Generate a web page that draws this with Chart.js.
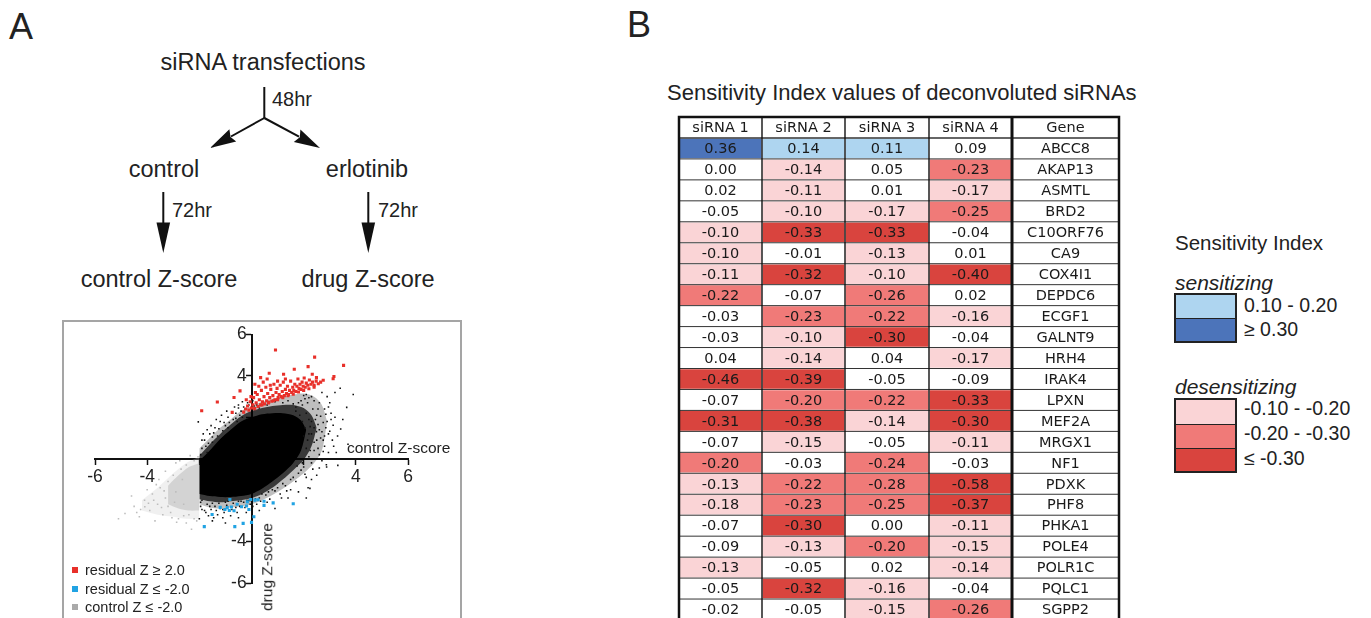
<!DOCTYPE html>
<html><head><meta charset="utf-8">
<script src="https://cdn.jsdelivr.net/npm/chart.js@4.4.1/dist/chart.umd.min.js"></script>
<style>
html,body{margin:0;padding:0;background:#fff;}
body{width:1371px;height:618px;position:relative;overflow:hidden;font-family:"Liberation Sans",Arial,sans-serif;color:#222;}
.t{position:absolute;white-space:nowrap;line-height:1;}
.c{transform:translate(-50%,-50%);}
.l{transform:translateY(-50%);}
#scatterBox{position:absolute;left:62px;top:320px;width:400px;height:320px;border:2px solid #a5a5a5;box-sizing:border-box;}
canvas{position:absolute;}
.sq{position:absolute;width:6px;height:6px;}
.box{position:absolute;border:2px solid #222;box-sizing:border-box;}
.box div{box-sizing:border-box;}
</style></head>
<body>
<!-- Panel A : flow diagram -->
<div class="t l" style="left:9px;top:27px;font-size:36px;">A</div>
<div class="t c" style="left:263px;top:63px;font-size:23.5px;">siRNA transfections</div>
<div class="t l" style="left:272px;top:99px;font-size:20px;">48hr</div>
<div class="t c" style="left:164px;top:170px;font-size:23.5px;">control</div>
<div class="t c" style="left:367px;top:170px;font-size:23.5px;">erlotinib</div>
<div class="t l" style="left:172px;top:210px;font-size:20px;">72hr</div>
<div class="t l" style="left:378px;top:210px;font-size:20px;">72hr</div>
<div class="t c" style="left:159px;top:280px;font-size:23.5px;">control Z-score</div>
<div class="t c" style="left:368px;top:280px;font-size:23.5px;">drug Z-score</div>
<svg style="position:absolute;left:0;top:0;" width="1371" height="618">
  <g stroke="#111" stroke-width="2" fill="none">
    <line x1="264.3" y1="87" x2="264.3" y2="118"/>
    <line x1="264.3" y1="118" x2="231" y2="136.5"/>
    <line x1="264.3" y1="118" x2="299" y2="136.7"/>
    <line x1="163.3" y1="192" x2="163.3" y2="225"/>
    <line x1="368.3" y1="192" x2="368.3" y2="225"/>
  </g>
  <g fill="#111">
    <polygon points="210,148 236.2,141.5 230.5,137 229.4,129.3"/>
    <polygon points="320,148 293.8,141.9 299.8,137.3 300.4,129.5"/>
    <polygon points="163.3,253 156.5,222.5 170.1,222.5"/>
    <polygon points="368.3,253 361.5,222.5 375.1,222.5"/>
  </g>
</svg>

<!-- Panel A : scatter -->
<div id="scatterBox"></div>
<canvas id="scatter" width="398" height="297" style="left:63px;top:321px;"></canvas>
<div class="t l" style="left:347px;top:448px;font-size:15.5px;">control Z-score</div>
<div class="t c" style="left:267px;top:567px;font-size:15.5px;transform:translate(-50%,-50%) rotate(-90deg);">drug Z-score</div>
<div class="sq" style="left:72px;top:567px;background:#e8302a;"></div>
<div class="t l" style="left:85px;top:570px;font-size:14.5px;">residual Z ≥ 2.0</div>
<div class="sq" style="left:72px;top:586px;background:#21a3e3;"></div>
<div class="t l" style="left:85px;top:589px;font-size:14.5px;">residual Z ≤ -2.0</div>
<div class="sq" style="left:72px;top:604px;background:#aaaaaa;"></div>
<div class="t l" style="left:85px;top:607px;font-size:14.5px;">control Z ≤ -2.0</div>

<!-- Panel B -->
<div class="t l" style="left:627px;top:25px;font-size:36px;">B</div>
<div class="t l" style="left:667px;top:93px;font-size:22px;">Sensitivity Index values of deconvoluted siRNAs</div>
<canvas id="heat" width="460" height="515" style="left:670px;top:110px;"></canvas>

<div class="t l" style="left:1175px;top:243px;font-size:20.5px;">Sensitivity Index</div>
<div class="t l" style="left:1175px;top:282px;font-size:21px;font-style:italic;">sensitizing</div>
<div class="box" style="left:1174px;top:293px;width:63px;height:50px;">
  <div style="height:23px;background:#aed5f0;"></div>
  <div style="height:23px;background:#4c74ba;border-top:1.5px solid #222;"></div>
</div>
<div class="t l" style="left:1244px;top:306px;font-size:19.5px;">0.10 - 0.20</div>
<div class="t l" style="left:1244px;top:330px;font-size:19.5px;">≥ 0.30</div>
<div class="t l" style="left:1175px;top:386px;font-size:21px;font-style:italic;">desensitizing</div>
<div class="box" style="left:1174px;top:398px;width:63px;height:75px;">
  <div style="height:24px;background:#fad4d6;"></div>
  <div style="height:24px;background:#f07a78;border-top:1.5px solid #222;"></div>
  <div style="height:23px;background:#d9443e;border-top:1.5px solid #222;"></div>
</div>
<div class="t l" style="left:1244px;top:409px;font-size:19.5px;">-0.10 - -0.20</div>
<div class="t l" style="left:1244px;top:434px;font-size:19.5px;">-0.20 - -0.30</div>
<div class="t l" style="left:1244px;top:459px;font-size:19.5px;">≤ -0.30</div>

<script>
// ---------------- Panel A data ----------------
const axisTickValues = [-6, -4, -2, 0, 2, 4, 6];
const axisTickLabels = ['-6', '-4', '', '', '', '4', '6'];

const residualHigh = [
  [0.92,5.25],[2.42,4.91],[3.53,4.51],[2.17,4.45],[1.64,4.32],[0.68,4.13],[3.16,3.97],[3.13,3.86],
  [1.23,4.08],[0.35,3.92],[2.33,4.08],[2.49,3.92],[2.75,3.79],[0.13,3.6],[-0.44,3.28],[-0.67,2.96],
  [-1.31,2.74],[-1.91,2.32],[-0.74,2.24],[-0.3,2.25],[-0.22,2.4],[-0.15,2.55],[-0.1,2.35],[-0.05,2.75],
  [0.0,2.45],[0.05,2.6],[0.08,2.95],[0.12,2.42],[0.18,2.7],[0.22,3.1],[0.25,2.52],[0.3,2.85],
  [0.35,2.6],[0.38,3.3],[0.42,2.75],[0.48,3.0],[0.5,2.65],[0.55,3.45],[0.58,2.8],[0.62,3.15],
  [0.66,2.72],[0.7,2.95],[0.74,3.35],[0.78,2.78],[0.82,3.05],[0.86,3.6],[0.9,2.85],[0.94,3.2],
  [0.98,3.4],[1.02,2.95],[1.06,3.1],[1.1,3.55],[1.14,3.0],[1.18,3.25],[1.22,3.7],[1.26,3.05],
  [1.3,3.35],[1.34,3.15],[1.38,3.5],[1.42,3.1],[1.46,3.3],[1.5,3.75],[1.54,3.2],[1.58,3.45],
  [1.62,3.3],[1.66,3.6],[1.7,3.25],[1.74,3.5],[1.78,3.85],[1.82,3.4],[1.86,3.6],[1.9,3.35],
  [1.94,3.7],[1.98,3.5],[2.02,3.9],[2.06,3.45],[2.1,3.65],[2.16,3.55],[2.22,3.8],[2.28,3.6],
  [2.34,3.7],[2.4,3.55],[2.48,3.75],[2.56,3.62],[2.65,3.7],[0.28,3.5],[0.45,3.7],[0.6,3.85],
  [0.72,3.55],[1.0,3.75],[1.3,3.85],[0.15,3.2],[-0.02,3.0],[-0.2,2.85],[0.4,2.6],[0.65,2.7],
  [0.85,2.8],[1.0,2.85],[1.2,2.95],[1.4,3.05],[1.6,3.12],[1.8,3.22],[2.0,3.3],[2.2,3.38],[2.4,3.46]
];
const residualLow = [
  [-1.81,-3.28],[-1.51,-2.69],[-1.02,-2.45],[-0.93,-2.36],[-0.67,-2.51],[-0.77,-2.33],[-0.64,-3.28],
  [-0.32,-3.12],[-0.38,-2.32],[-0.19,-2.28],[-0.16,-2.08],[-0.03,-1.97],[0.09,-2.8],[0.0,-3.07],
  [0.48,-2.05],[0.48,-2.25],[0.83,-2.13],[1.6,-2.17],[-0.83,-1.97],[-1.2,-2.35],[0.13,-2.0],
  [-0.1,-2.45],[-0.55,-2.2],[0.25,-1.98],[-0.85,-2.5]
];
const controlLow = [
  [-4.85,-2.64],[-4.09,-2.32],[-4.5,-2.3],[-4.3,-2.8],[-4.1,-2.0],[-3.9,-2.5],[-3.8,-1.7],[-3.6,-2.2],
  [-3.5,-1.4],[-3.4,-2.7],[-3.3,-1.9],[-3.2,-1.1],[-3.1,-2.6],[-3.0,-0.8],[-2.9,-1.6],[-2.8,-2.9],
  [-2.87,-3.07],[-2.7,-0.5],[-2.6,-2.2],[-2.5,-0.3],[-2.4,-2.7],[-2.3,-3.4],[-2.2,-0.1],[-2.1,-3.0],
  [-2.05,0.1],[-3.7,-3.0],[-4.0,-1.5],[-3.3,-0.6],[-2.9,-0.2],[-2.5,-3.1],[-5.1,-2.9],[-4.6,-1.8],
  [-3.55,-1.0],[-3.75,-2.0],[-4.25,-2.45],[-2.2,-2.9],[-2.6,-2.75],[-3.05,-2.85],[-2.35,0.15],[-2.75,-0.1],
  [-3.45,-2.35],[-3.65,-1.25],[-3.95,-2.15],[-4.4,-2.6],[-3.2,-2.3],[-2.95,-2.1],[-3.35,-1.55],[-2.65,-1.0]
];
const otherScatter = [
  [-1.9,0.5],[-1.8,0.9],[-1.7,0.3],[-1.6,1.2],[-1.5,0.8],[-1.4,1.5],[-1.3,1.1],[-1.2,1.8],[-1.1,1.35],
  [-1.0,1.6],[-0.9,2.0],[-0.85,1.75],[-0.7,1.9],[-0.6,2.2],[-0.55,1.8],[-0.45,2.1],[-2.04,1.78],
  [-1.95,0.2],[-1.75,0.6],[-1.45,1.25],[-1.95,-2.3],[-1.8,-2.5],[-1.7,-2.2],[-1.55,-2.45],[-1.4,-2.3],
  [-1.3,-2.7],[-1.2,-2.4],[-1.05,-2.6],[-0.95,-2.25],[-0.8,-2.75],[-0.7,-2.15],[-0.55,-2.6],[-0.45,-2.3],
  [-0.3,-2.1],[-0.2,-2.6],[0.05,-2.3],[0.2,-2.2],[0.3,-1.9],[0.55,-1.75],[0.7,-1.95],[0.9,-1.55],
  [1.1,-1.7],[1.3,-1.3],[1.5,-1.5],[1.7,-1.1],[2.24,-1.43],[-1.5,-3.0],[-1.0,-3.1],[-2.0,-2.9],
  [-1.65,-2.75],[1.8,-0.7],[2.0,-0.4],[2.1,-0.9],[2.2,0.1],[2.3,-0.2],[2.4,0.4],[2.5,0.9],[2.6,0.2],
  [2.7,1.3],[2.8,0.6],[2.88,-0.4],[3.0,1.33],[3.1,0.9],[3.31,-0.32],[3.42,1.44],[3.65,2.48],[2.2,1.2],
  [2.3,1.8],[2.35,2.4],[2.5,2.1],[2.6,2.7],[2.7,3.2],[2.8,2.4],[2.9,3.0],[3.0,2.7],[3.2,3.2],[3.4,3.4],
  [2.15,2.7],[2.05,2.9],[1.95,2.6],[1.8,2.7],[1.7,2.5],[2.4,1.5],[2.55,1.65],[3.2,2.0],[2.9,1.8],
  [2.75,0.35],[2.87,-0.29],[2.17,-1.4],[2.49,1.31],[3.13,1.62],[-0.3,2.5],[-0.15,2.7],[0.1,2.55],
  [0.3,2.45],[0.6,2.6],[0.9,2.75],[1.2,2.7],[1.4,2.8],[1.6,2.65],[1.9,2.8],[2.1,3.1],[2.3,3.0],
  [-0.35,2.0],[-0.5,2.45],[2.1,0.5],[2.0,1.1],[2.25,1.55],[1.95,-0.2],[1.6,-0.9],[1.2,-1.2],[0.8,-1.5],
  [0.4,-1.7],[0.0,-2.0],[-0.5,-2.05],[-1.0,-2.1],[-1.5,-2.15],[-1.9,-2.0],[2.45,0.0],[2.65,1.0],
  [-1.9,0.9],[-1.85,1.2],[-1.7,1.4],[-1.65,0.75],[-1.55,1.6],[-1.5,1.05],[-1.35,1.9],[-1.25,1.45],
  [-1.15,2.1],[-1.05,1.75],[-0.95,2.3],[-0.9,1.5],[-0.75,2.25],[-0.65,2.5],[-0.6,1.95],[-0.5,2.6],
  [-0.4,2.3],[-0.35,2.75],[-0.25,2.4],[-0.1,2.6],[0.05,2.8],[0.2,2.6],[1.7,2.3],[1.85,2.1],[1.95,1.8],
  [2.05,1.5],[2.1,2.2],[2.15,0.9],[2.2,1.9],[2.25,0.4],[2.3,1.2],[2.35,-0.5],[2.4,0.8],[2.45,1.9],
  [2.55,0.5],[2.6,1.4],[2.7,-0.1],[2.75,0.9],[2.85,1.5],[2.95,0.3],[3.05,2.2],[3.15,0.6],[3.3,1.1],
  [3.5,1.9],[3.7,0.7],[3.9,3.1],[1.9,-0.55],[1.75,-0.35],[2.05,-0.75],[1.5,-1.0],[1.35,-1.55],
  [1.0,-1.4],[1.15,-1.9],[0.6,-2.1],[0.65,-1.6],[0.35,-2.05],[0.15,-1.95],[-0.05,-2.2],[-0.25,-2.35],
  [-0.4,-2.05],[-0.6,-2.35],[-0.75,-2.45],[-0.9,-2.05],[-1.1,-2.45],[-1.25,-2.15],[-1.35,-2.5],
  [-1.6,-2.3],[-1.75,-2.6],[-1.9,-2.45],[-1.95,-2.1],[-1.45,-2.85],[-1.1,-2.85],[-0.5,-2.85],
  [0.3,-2.5],[0.9,-2.4],[1.4,-1.9],[1.8,-1.6],[2.5,-0.8],[2.1,-1.9],
  [2.55,2.4],[2.65,2.05],[2.75,1.75],[2.85,2.15],[2.95,2.5],[3.05,1.9],[2.4,2.8],[2.2,2.95],[2.0,3.05],
  [2.8,1.1],[2.95,1.2],[3.25,0.3],[2.6,-0.45],[2.3,-1.0]
];
// outline of the dense cloud (x, upper edge, lower edge)
const cloudOuterX   = [-2.0,-1.6,-1.2,-0.8,-0.4, 0.0, 0.4, 0.8, 1.2, 1.6, 2.0, 2.4, 2.7, 2.9];
const cloudOuterTop = [ 0.5, 1.0, 1.5, 1.9, 2.3, 2.55,2.75,2.9, 3.0, 3.1, 3.15,3.0, 2.6, 1.8];
const cloudOuterBot = [-2.2,-2.35,-2.4,-2.35,-2.3,-2.2,-2.0,-1.75,-1.45,-1.1,-0.7,-0.2,0.4,1.8];
const cloudMidX     = [-2.0,-1.6,-1.2,-0.8,-0.4, 0.0, 0.4, 0.8, 1.2, 1.6, 2.0, 2.3, 2.5];
const cloudMidTop   = [ 0.15,0.7, 1.2, 1.65,2.05,2.3, 2.45,2.55,2.6, 2.6, 2.45,2.1, 1.5];
const cloudMidBot   = [-1.95,-2.05,-2.1,-2.05,-2.0,-1.9,-1.7,-1.4,-1.0,-0.55,-0.05,0.6,1.5];
const cloudCoreX    = [-2.0,-1.6,-1.2,-0.8,-0.4, 0.0, 0.4, 0.8, 1.2, 1.6, 1.9, 2.1];
const cloudCoreTop  = [-0.1, 0.4, 0.95,1.4, 1.8, 2.0, 2.15,2.2, 2.2, 2.1, 1.85,1.4];
const cloudCoreBot  = [-1.7,-1.8,-1.85,-1.85,-1.8,-1.7,-1.45,-1.1,-0.7,-0.2,0.4,1.4];
const grayOuterX    = [-4.2,-3.6,-3.0,-2.5,-2.0];
const grayOuterTop  = [-2.0,-1.4,-0.7,-0.2, 0.1];
const grayOuterBot  = [-2.5,-2.7,-2.8,-2.9,-2.9];
const grayCoreX     = [-3.2,-2.8,-2.4,-2.0];
const grayCoreTop   = [-1.3,-0.8,-0.4,-0.2];
const grayCoreBot   = [-2.2,-2.4,-2.5,-2.5];

// ---------------- Panel B data ----------------
const genes = ['ABCC8','AKAP13','ASMTL','BRD2','C10ORF76','CA9','COX4I1','DEPDC6','ECGF1','GALNT9','HRH4','IRAK4','LPXN','MEF2A','MRGX1','NF1','PDXK','PHF8','PHKA1','POLE4','POLR1C','PQLC1','SGPP2'];
const siRNA1 = [0.36,0.00,0.02,-0.05,-0.10,-0.10,-0.11,-0.22,-0.03,-0.03,0.04,-0.46,-0.07,-0.31,-0.07,-0.20,-0.13,-0.18,-0.07,-0.09,-0.13,-0.05,-0.02];
const siRNA2 = [0.14,-0.14,-0.11,-0.10,-0.33,-0.01,-0.32,-0.07,-0.23,-0.10,-0.14,-0.39,-0.20,-0.38,-0.15,-0.03,-0.22,-0.23,-0.30,-0.13,-0.05,-0.32,-0.05];
const siRNA3 = [0.11,0.05,0.01,-0.17,-0.33,-0.13,-0.10,-0.26,-0.22,-0.30,0.04,-0.05,-0.22,-0.14,-0.05,-0.24,-0.28,-0.25,0.00,-0.20,0.02,-0.16,-0.15];
const siRNA4 = [0.09,-0.23,-0.17,-0.25,-0.04,0.01,-0.40,0.02,-0.16,-0.04,-0.17,-0.09,-0.33,-0.30,-0.11,-0.03,-0.58,-0.37,-0.11,-0.15,-0.14,-0.04,-0.26];
const columnNames = ['siRNA 1','siRNA 2','siRNA 3','siRNA 4','Gene'];

// ---------------- styles / layout ----------------
const RED = '#e8302a', BLUE = '#21a3e3';
const colWidths = [83, 83, 84, 83, 107];
const columnValues = [siRNA1, siRNA2, siRNA3, siRNA4, null];
const rowLabels = ['header'].concat(genes);

function toXY(arr){ return arr.map(p => ({x:p[0], y:p[1]})); }
function band(xs, top, bot, color){
  return [
    {type:'line', data: xs.map((x,i)=>({x, y:top[i]})), borderColor:'transparent', borderWidth:0, pointRadius:0, fill:false, tension:0.3},
    {type:'line', data: xs.map((x,i)=>({x, y:bot[i]})), borderColor:'transparent', borderWidth:0, pointRadius:0, fill:'-1', backgroundColor:color, tension:0.3}
  ];
}
const tickFont = {family:'Liberation Sans', size:17.5};

new Chart(document.getElementById('scatter'), {
  type:'scatter',
  data:{datasets:[
    {label:'residual Z ≥ 2.0', data:toXY(residualHigh), backgroundColor:RED, borderWidth:0, pointStyle:'rect', pointRadius:2.2},
    {label:'residual Z ≤ -2.0', data:toXY(residualLow), backgroundColor:BLUE, borderWidth:0, pointStyle:'rect', pointRadius:2.2},
    {label:'control Z ≤ -2.0', data:toXY(controlLow), backgroundColor:'#bdbdbd', borderWidth:0, pointStyle:'rect', pointRadius:1.1},
    {label:'other', data:toXY(otherScatter), backgroundColor:'#111', borderWidth:0, pointStyle:'rect', pointRadius:1.1},
    ...band(grayOuterX, grayOuterTop, grayOuterBot, 'rgba(205,205,205,0.3)'),
    ...band(grayCoreX, grayCoreTop, grayCoreBot, 'rgba(196,196,196,0.7)'),
    ...band(cloudOuterX, cloudOuterTop, cloudOuterBot, 'rgba(0,0,0,0.25)'),
    ...band(cloudMidX, cloudMidTop, cloudMidBot, 'rgba(0,0,0,0.7)'),
    ...band(cloudCoreX, cloudCoreTop, cloudCoreBot, '#000')
  ]},
  options:{
    responsive:false, animation:false, events:[],
    layout:{padding:{left:32, right:53, top:12, bottom:35}},
    plugins:{legend:{display:false}, tooltip:{enabled:false}},
    scales:{
      x:{type:'linear', min:-6, max:6, position:{y:0},
         afterFit(s){ s.height = 0; },
         afterBuildTicks(s){ s.ticks = axisTickValues.map(v=>({value:v})); },
         ticks:{font:tickFont, color:'#222', maxRotation:0, autoSkip:false, padding:3,
                callback:(v)=> axisTickLabels[axisTickValues.indexOf(v)] ?? ''},
         grid:{drawOnChartArea:false, drawTicks:true, tickLength:5, tickColor:'#111', tickWidth:1.5},
         border:{display:true, color:'#111', width:2}},
      y:{type:'linear', min:-6, max:6, position:{x:0},
         afterFit(s){ s.width = 0; },
         afterBuildTicks(s){ s.ticks = axisTickValues.map(v=>({value:v})); },
         ticks:{font:tickFont, color:'#222', autoSkip:false,
                callback:(v)=> { const t = axisTickLabels[axisTickValues.indexOf(v)]; return t ? t + ' ' : ''; }},
         grid:{drawOnChartArea:false, drawTicks:true, tickLength:5, tickColor:'#111', tickWidth:1.5},
         border:{display:true, color:'#111', width:2}}
    }
  }
});

function cellColor(col, row){
  if (row === 0 || col === 4) return '#ffffff';
  const v = columnValues[col][row-1];
  if (v >= 0.30) return '#4c74ba';
  if (v >= 0.10) return '#aed5f0';
  if (v <= -0.30) return '#d9443e';
  if (v <= -0.20) return '#f07a78';
  if (v <= -0.10) return '#fad4d6';
  return '#ffffff';
}

const tablePlugin = {
  id:'tableGrid',
  afterDatasetsDraw(chart){
    const {ctx, chartArea:a, scales:{x, y}} = chart;
    ctx.save();
    ctx.fillStyle = '#1a1a1a';
    ctx.textAlign = 'center';
    ctx.textBaseline = 'middle';
    ctx.font = '14.5px "DejaVu Sans"';
    chart.data.datasets.forEach((ds, j) => {
      chart.getDatasetMeta(j).data.forEach((bar, i) => {
        let text;
        if (i === 0) text = columnNames[j];
        else if (j === 4) text = genes[i-1];
        else text = columnValues[j][i-1].toFixed(2);
        ctx.fillText(text, (bar.x + bar.base)/2, bar.y + 1);
      });
    });
    ctx.strokeStyle = '#333';
    for (let i = 1; i < rowLabels.length; i++){
      const yy = (y.getPixelForValue(i-1) + y.getPixelForValue(i)) / 2;
      ctx.lineWidth = i === 1 ? 1.6 : 1;
      ctx.beginPath(); ctx.moveTo(a.left, yy); ctx.lineTo(a.right, yy); ctx.stroke();
    }
    let edge = 0;
    ctx.strokeStyle = '#111';
    colWidths.slice(0, -1).forEach((w, k) => {
      edge += w;
      const xx = x.getPixelForValue(edge);
      ctx.lineWidth = k === 3 ? 3 : 1.4;
      ctx.beginPath(); ctx.moveTo(xx, a.top); ctx.lineTo(xx, a.bottom); ctx.stroke();
    });
    ctx.lineWidth = 2.5;
    ctx.strokeRect(a.left, a.top, a.right - a.left, a.bottom - a.top);
    ctx.restore();
  }
};

new Chart(document.getElementById('heat'), {
  type:'bar',
  data:{labels:rowLabels, datasets: columnNames.map((name, j) => ({
    label:name,
    data: rowLabels.map(() => colWidths[j]),
    backgroundColor: (c) => cellColor(j, c.dataIndex),
    borderColor:'#ffffff', borderWidth:1, borderSkipped:false,
    barPercentage:1, categoryPercentage:1
  }))},
  options:{
    indexAxis:'y', responsive:false, animation:false, events:[],
    layout:{padding:{left:9, right:11, top:7, bottom:5}},
    plugins:{legend:{display:false}, tooltip:{enabled:false}},
    scales:{
      x:{type:'linear', stacked:true, min:0, max:440, display:false},
      y:{type:'category', stacked:true, display:false, offset:true}
    }
  },
  plugins:[tablePlugin]
});
</script>
</body></html>
